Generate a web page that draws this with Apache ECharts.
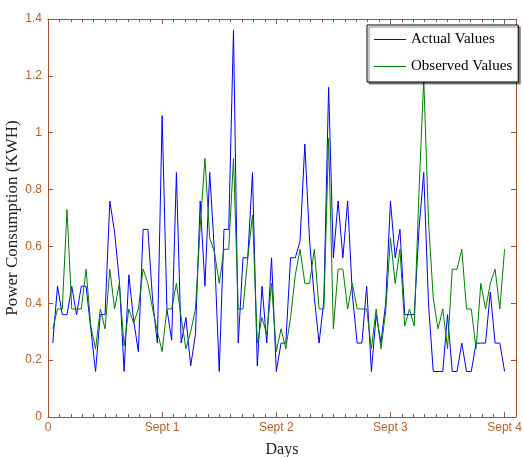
<!DOCTYPE html>
<html>
<head>
<meta charset="utf-8">
<script src="https://cdn.jsdelivr.net/npm/echarts@6/dist/echarts.min.js"></script>
<style>
  html, body { margin: 0; padding: 0; background: #ffffff; }
  #chart { width: 523px; height: 457px; }
</style>
</head>
<body>
<div id="chart"></div>
<script>
// Hourly readings over four days (hour 1 .. hour 96)
const actualValues = [
  0.26, 0.46, 0.36, 0.36, 0.46, 0.36, 0.46, 0.46, 0.31, 0.16,
  0.36, 0.36, 0.76, 0.65, 0.48, 0.16, 0.50, 0.34, 0.23, 0.66,
  0.66, 0.41, 0.26, 1.06, 0.38, 0.27, 0.86, 0.26, 0.35, 0.18,
  0.29, 0.76, 0.46, 0.86, 0.58, 0.16, 0.66, 0.66, 1.36, 0.26,
  0.56, 0.56, 0.86, 0.18, 0.46, 0.26, 0.56, 0.16, 0.26, 0.26,
  0.56, 0.56, 0.62, 0.96, 0.62, 0.42, 0.26, 0.41, 1.16, 0.56,
  0.76, 0.56, 0.76, 0.43, 0.26, 0.26, 0.46, 0.16, 0.36, 0.26,
  0.40, 0.76, 0.56, 0.66, 0.36, 0.36, 0.36, 0.66, 0.86, 0.40,
  0.16, 0.16, 0.16, 0.36, 0.16, 0.16, 0.26, 0.16, 0.16, 0.26,
  0.26, 0.26, 0.44, 0.26, 0.26, 0.16
];
const observedValues = [
  0.31, 0.38, 0.38, 0.73, 0.38, 0.38, 0.38, 0.52, 0.32, 0.24,
  0.38, 0.31, 0.52, 0.38, 0.47, 0.25, 0.38, 0.33, 0.38, 0.52,
  0.47, 0.38, 0.30, 0.23, 0.38, 0.38, 0.47, 0.35, 0.24, 0.30,
  0.38, 0.67, 0.91, 0.63, 0.58, 0.47, 0.59, 0.59, 0.91, 0.38,
  0.38, 0.56, 0.71, 0.26, 0.35, 0.29, 0.47, 0.23, 0.31, 0.24,
  0.35, 0.50, 0.59, 0.47, 0.47, 0.59, 0.38, 0.38, 0.98, 0.31,
  0.52, 0.52, 0.38, 0.47, 0.38, 0.38, 0.38, 0.24, 0.38, 0.24,
  0.37, 0.63, 0.47, 0.59, 0.32, 0.38, 0.32, 0.79, 1.19, 0.69,
  0.42, 0.31, 0.38, 0.24, 0.52, 0.52, 0.59, 0.38, 0.38, 0.24,
  0.47, 0.38, 0.47, 0.52, 0.38, 0.59
];
// Labels for each day boundary (hours 0, 24, 48, 72, 96)
const dayLabels = ['0', 'Sept 1', 'Sept 2', 'Sept 3', 'Sept 4'];
const seriesNames = ['Actual Values', 'Observed Values'];
const seriesColors = ['#0000ff', '#008000'];

const AXIS = '#a0522d';
const LABEL = '#b4602a';
const SERIF = '"Liberation Serif", "Times New Roman", serif';
const SANS = '"Liberation Sans", Arial, sans-serif';
const X_MAX = 98.4;

function toPoints(arr) {
  return arr.map((v, i) => [i + 1, v]);
}

function xAxisDef(pos, interval, tickLen, withLabels, withLine) {
  return {
    type: 'value', position: pos, min: 0, max: X_MAX, interval: interval,
    splitLine: { show: false },
    axisLine: { show: withLine, onZero: false, lineStyle: { color: AXIS, width: 1 } },
    axisTick: { show: true, inside: true, length: tickLen, lineStyle: { color: AXIS } },
    axisLabel: withLabels ? {
      show: true, color: LABEL, fontFamily: SANS, fontSize: 12, margin: 5,
      formatter: v => (v % 24 === 0 ? dayLabels[v / 24] : '')
    } : { show: false },
    name: withLabels ? 'Days' : '',
    nameLocation: 'middle', nameGap: 25, nameMoveOverlap: false,
    nameTextStyle: { color: '#222', fontFamily: SERIF, fontSize: 16 }
  };
}

const chart = echarts.init(document.getElementById('chart'), null, { renderer: 'canvas' });
chart.setOption({
  animation: false,
  backgroundColor: '#ffffff',
  grid: { left: 48, right: 7, top: 19, bottom: 40, containLabel: false, outerBoundsMode: 'none' },
  legend: {
    orient: 'vertical', left: 367, top: 25,
    data: seriesNames.map((n, i) => ({ name: n, icon: 'rect', itemStyle: { color: seriesColors[i] } })),
    itemWidth: 32, itemHeight: 1, itemGap: 12,
    padding: [7, 6, 8, 7],
    backgroundColor: '#ffffff', borderColor: '#000000', borderWidth: 1,
    shadowColor: 'rgba(0,0,0,0.45)', shadowOffsetX: 2, shadowOffsetY: 2, shadowBlur: 0,
    textStyle: { color: '#000', fontFamily: SERIF, fontSize: 15 }
  },
  xAxis: [
    xAxisDef('bottom', 24, 5, true, true),
    xAxisDef('bottom', 2.4, 3, false, false),
    xAxisDef('top', 24, 5, false, true),
    xAxisDef('top', 2.4, 3, false, false)
  ],
  yAxis: [
    {
      type: 'value', position: 'left', min: 0, max: 1.4, interval: 0.2,
      splitLine: { show: false },
      axisLine: { show: true, onZero: false, lineStyle: { color: AXIS } },
      axisTick: { show: true, inside: true, length: 5, lineStyle: { color: AXIS } },
      axisLabel: { color: LABEL, fontFamily: SANS, fontSize: 12, margin: 6 },
      name: 'Power Consumption (KWH)', nameLocation: 'middle', nameGap: 27, nameMoveOverlap: false,
      nameTextStyle: { color: '#222', fontFamily: SERIF, fontSize: 17 }
    },
    {
      type: 'value', position: 'right', min: 0, max: 1.4, interval: 0.2,
      splitLine: { show: false },
      axisLine: { show: true, onZero: false, lineStyle: { color: AXIS } },
      axisTick: { show: true, inside: true, length: 5, lineStyle: { color: AXIS } },
      axisLabel: { show: false }
    }
  ],
  series: seriesNames.map((n, i) => ({
    name: n, type: 'line', xAxisIndex: 0, yAxisIndex: 0,
    data: toPoints(i === 0 ? actualValues : observedValues), symbol: 'none',
    lineStyle: { color: seriesColors[i], width: 1 }, itemStyle: { color: seriesColors[i] }
  }))
});
</script>
</body>
</html>
